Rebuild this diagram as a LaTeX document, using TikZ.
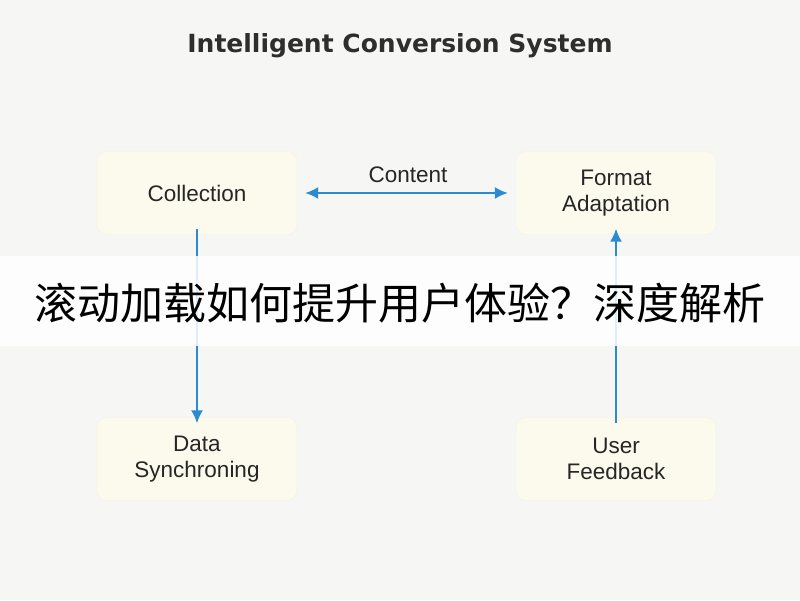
\documentclass[tikz,border=0pt]{standalone}
\usepackage{fontspec}
\setmainfont{Liberation Sans}
\newfontfamily\cjk{Noto Sans CJK SC}
\newfontfamily\ttlfont{DejaVu Sans}
\usetikzlibrary{arrows.meta}
\definecolor{bg}{HTML}{F6F6F4}
\definecolor{boxf}{HTML}{FCFAEC}
\definecolor{arr}{HTML}{2B8BD2}
\begin{document}
\begin{tikzpicture}[x=1pt,y=-1pt,
  box/.style={draw=boxf!85!black!20!boxf,fill=boxf,rounded corners=10pt,minimum width=200pt,minimum height=83pt,align=center,font=\fontsize{22.5}{26}\selectfont,text=black!85},
  ar/.style={draw=arr,line width=1.8pt,-{Latex[length=13pt,width=12pt]}}]
\fill[bg] (0,0) rectangle (800,600);
\useasboundingbox (0,0) rectangle (800,600);
\node[font=\ttlfont\bfseries\fontsize{25}{30}\selectfont,text=black!82] (title) at (400,46) {Intelligent Conversion System};
\node[box] (col) at (197,193) {Collection};
\node[box] (fmt) at (616,193) {Format\\Adaptation};
\node[box] (dat) at (197,459) {Data\\Synchroning};
\node[box] (usr) at (616,459) {User\\Feedback};
\draw[ar,{Latex[length=13pt,width=12pt]}-{Latex[length=13pt,width=12pt]}] ([xshift=8pt]col.east) -- ([xshift=-8pt]fmt.west);
\node[font=\fontsize{22.5}{26}\selectfont,text=black!85] (cnt) at (408,175) {Content};
\draw[ar] ([yshift=6pt]col.south) -- ([yshift=-6pt]dat.north);
\draw[ar] ([yshift=-6pt]usr.north) -- ([yshift=6pt]fmt.south);
\fill[white,opacity=0.85] (0,256) rectangle (800,346);
\node[font=\cjk\fontsize{43}{46}\selectfont,text=black] (ban) at (400,303) {滚动加载如何提升用户体验？深度解析};
\end{tikzpicture}
\end{document}
